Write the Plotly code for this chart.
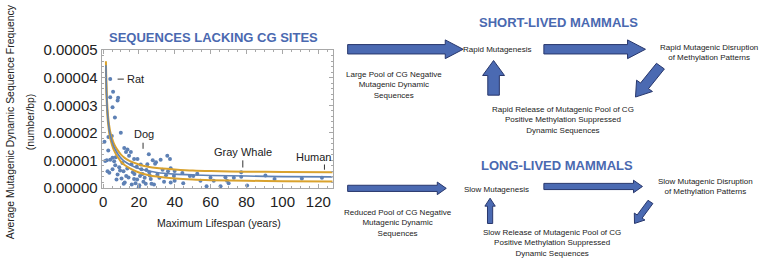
import math
import plotly.graph_objects as go

# ---------------- data ----------------
lifespan = [4.0, 5.6, 4.0, 8.4, 8.1, 5.3, 6.6, 9.9, 3.0, 4.9, 0.8, 2.9, 13.6, 4.0, 2.1, 1.2,
            6.2, 5.3, 5.3, 7.1, 8.1, 9.5, 10.3, 11.4, 12.1, 12.9, 14.5, 15.5, 15.8, 16.6,
            17.3, 18.1, 18.8, 19.2, 19.9, 20.6, 21.4, 22.5, 23.2, 24.7, 25.5, 25.8, 26.6,
            27.7, 28.4, 29.5, 30.3, 31.4, 32.1, 33.2, 34.0, 35.1, 36.2, 37.3, 37.7, 39.9,
            39.5, 39.9, 37.7, 44.2, 44.7, 48.4, 50.3, 52.5, 54.3, 57.7, 59.9, 61.7, 65.5,
            68.2, 69.1, 70.0, 72.9, 77.0, 77.0, 80.3, 90.5, 95.6, 110.8, 122.0,
            2.5, 3.5, 6.8, 7.5, 9.0, 10.8, 11.5, 13.5, 14.2, 16.0, 17.5, 19.0, 20.2, 21.0,
            22.0, 23.8, 24.2, 26.0, 27.0, 11.8, 12.8, 17.3, 29.0, 35.8]
frequency = [3.95e-5, 3.49e-5, 3.29e-5, 3.27e-5, 3.17e-5, 2.93e-5, 2.56e-5, 2.00e-5, 1.85e-5,
             1.88e-5, 1.68e-5, 1.36e-5, 1.39e-5, 1.02e-5, 1.00e-5, 0.98e-5, 0.97e-5, 1.09e-5,
             0.68e-5, 1.11e-5, 0.49e-5, 0.63e-5, 0.34e-5, 0.60e-5, 0.20e-5, 0.43e-5, 1.17e-5,
             1.30e-5, 0.86e-5, 0.57e-5, 0.32e-5, 0.17e-5, 0.77e-5, 1.05e-5, 0.02e-5, 0.43e-5,
             0.68e-5, 0.22e-5, 0.37e-5, 0.86e-5, 1.22e-5, 0.57e-5, 0.32e-5, 1.00e-5, 0.12e-5,
             0.93e-5, 0.49e-5, 0.37e-5, 1.02e-5, 0.66e-5, 0.22e-5, 0.46e-5, 0.60e-5, 1.05e-5,
             0.71e-5, 0.61e-5, 0.43e-5, 0.26e-5, 0.20e-5, 0.54e-5, 0.17e-5, 0.43e-5, 0.43e-5,
             0.51e-5, 0.26e-5, 0.06e-5, 0.37e-5, 0.26e-5, 0.06e-5, 0.39e-5, 0.26e-5, 0.17e-5,
             0.37e-5, 0.57e-5, 0.40e-5, 0.09e-5, 0.45e-5, 0.32e-5, 0.34e-5, 0.37e-5,
             0.60e-5, 0.55e-5, 0.82e-5, 0.30e-5, 0.75e-5, 0.90e-5, 0.15e-5, 0.70e-5, 0.38e-5,
             0.12e-5, 0.50e-5, 0.30e-5, 0.10e-5, 0.85e-5, 0.50e-5, 0.15e-5, 0.65e-5, 0.45e-5,
             0.15e-5, 1.45e-5, 1.30e-5, 1.05e-5, 0.88e-5, 1.17e-5]

fit_x = [1.6, 2, 2.5, 3, 3.5, 4, 5, 6, 7, 8, 10, 12, 15, 20, 25, 30, 40, 50, 60, 80, 100, 128]
fit_mid = [4.45e-5, 3.35e-5, 2.70e-5, 2.35e-5, 2.10e-5, 1.92e-5, 1.68e-5, 1.50e-5, 1.37e-5,
           1.26e-5, 1.08e-5, 0.96e-5, 0.84e-5, 0.70e-5, 0.62e-5, 0.56e-5, 0.50e-5, 0.47e-5,
           0.45e-5, 0.43e-5, 0.41e-5, 0.40e-5]
fit_upper = [4.60e-5, 3.50e-5, 2.85e-5, 2.48e-5, 2.23e-5, 2.04e-5, 1.80e-5, 1.62e-5, 1.49e-5,
             1.38e-5, 1.21e-5, 1.09e-5, 0.97e-5, 0.85e-5, 0.77e-5, 0.72e-5, 0.67e-5, 0.63e-5,
             0.61e-5, 0.59e-5, 0.58e-5, 0.57e-5]
fit_lower = [4.30e-5, 3.20e-5, 2.55e-5, 2.22e-5, 1.97e-5, 1.80e-5, 1.56e-5, 1.38e-5, 1.25e-5,
             1.14e-5, 0.95e-5, 0.83e-5, 0.71e-5, 0.56e-5, 0.47e-5, 0.41e-5, 0.34e-5, 0.30e-5,
             0.28e-5, 0.26e-5, 0.24e-5, 0.23e-5]

x_ticks = [0, 20, 40, 60, 80, 100, 120]
y_ticks = [0, 1e-5, 2e-5, 3e-5, 4e-5, 5e-5]
y_ticktext = ["0.00000", "0.00001", "0.00002", "0.00003", "0.00004", "0.00005"]

species = ["Dog", "Gray Whale", "Human"]
species_x = [23.0, 78.2, 117.3]
species_y = [1.94e-5, 1.30e-5, 1.12e-5]
pointer_x = [22.3, 77.9, 123.4]
pointer_y0 = [1.42e-5, 0.74e-5, 0.66e-5]
pointer_y1 = [1.64e-5, 1.00e-5, 0.85e-5]

# ---------------- figure ----------------
W, H = 764, 268
FONT = "Liberation Sans, Arial, sans-serif"
BLUE = "#5E81B5"
ORANGE = "#D9A22E"
HEAD = "#4A69B0"

fig = go.Figure()
fig.add_trace(go.Scatter(x=lifespan, y=frequency, mode="markers",
                         marker=dict(color=BLUE, size=4), hoverinfo="skip"))
for ys, col, w in [(fit_upper, ORANGE, 2), (fit_lower, ORANGE, 2), (fit_mid, BLUE, 1.6)]:
    fig.add_trace(go.Scatter(x=fit_x, y=ys, mode="lines", line=dict(color=col, width=w, shape="spline", smoothing=0.8),
                             hoverinfo="skip"))

x0p, x1p = 99 / W, 331 / W
y0p, y1p = 1 - 191 / H, 1 - 44 / H
axcol = "#a8a8a8"
fig.update_layout(
    width=W, height=H, margin=dict(l=0, r=0, t=0, b=0),
    paper_bgcolor="white", plot_bgcolor="white", showlegend=False,
    font=dict(family=FONT, color="#222"),
    xaxis=dict(domain=[x0p, x1p], range=[-0.8, 128], showgrid=False, zeroline=False,
               showline=True, linecolor=axcol, linewidth=1, mirror="ticks",
               ticks="inside", ticklen=4, tickcolor=axcol, tickvals=x_ticks,
               tickfont=dict(size=15, color="#222"),
               minor=dict(dtick=5, ticklen=2, ticks="inside", tickcolor=axcol, showgrid=False)),
    yaxis=dict(domain=[y0p, y1p], range=[0, 5e-5], showgrid=False, zeroline=False,
               showline=True, linecolor=axcol, linewidth=1, mirror="ticks",
               ticks="inside", ticklen=4, tickcolor=axcol, tickvals=y_ticks, ticktext=y_ticktext,
               tickfont=dict(size=15, color="#222"),
               minor=dict(dtick=0.2e-5, ticklen=2, ticks="inside", tickcolor=axcol, showgrid=False)),
)

def P(px, py):
    return px / W, 1 - py / H

ann = []
def text_px(px, py, s, size=8, color="#222", bold=False, angle=0, anchor="center"):
    x, y = P(px, py)
    t = f"<b>{s}</b>" if bold else s
    ann.append(dict(x=x, y=y, xref="paper", yref="paper", text=t, showarrow=False,
                    xanchor=anchor, yanchor="middle", textangle=angle, align="center",
                    font=dict(size=size, color=color, family=FONT)))

# chart texts
text_px(211, 30, "SEQUENCES LACKING CG SITES", size=13, color=HEAD, bold=True)
text_px(7, 120, "Average Mutagenic Dynamic Sequence Frequency", size=10.4, angle=-90)
text_px(27, 120, "(number/bp)", size=10.4, angle=-90)
text_px(217, 229, "Maximum Lifespan (years)", size=10.5)

# species labels
for name, sx, sy in zip(species, species_x, species_y):
    ann.append(dict(x=sx, y=sy, xref="x", yref="y", text=name, showarrow=False,
                    xanchor="center", yanchor="middle", font=dict(size=11, color="#222", family=FONT)))
ann.append(dict(x=12.4, y=3.95e-5, xref="x", yref="y", text="Rat", showarrow=False,
                xanchor="left", yanchor="middle", font=dict(size=11, color="#222", family=FONT)))

shapes = []
for px_, a, b in zip(pointer_x, pointer_y0, pointer_y1):
    shapes.append(dict(type="line", xref="x", yref="y", x0=px_, x1=px_, y0=a, y1=b,
                       line=dict(color="#333", width=1)))
shapes.append(dict(type="line", xref="x", yref="y", x0=8.1, x1=11.6, y0=3.95e-5, y1=3.95e-5,
                   line=dict(color="#333", width=1)))

# diagram texts
text_px(558, 14, "SHORT-LIVED MAMMALS", size=13, color=HEAD, bold=True)
text_px(496, 43, "Rapid Mutagenesis")
text_px(709, 46, "Rapid Mutagenic Disruption<br>of Methylation Patterns")
text_px(393, 81, "Large Pool of CG Negative<br>Mutagenic Dynamic<br>Sequences")
text_px(562, 118, "Rapid Release of Mutagenic Pool of CG<br>Positive Methylation Suppressed<br>Dynamic Sequences")

text_px(556, 167, "LONG-LIVED MAMMALS", size=13, color=HEAD, bold=True)
text_px(495, 193, "Slow Mutagenesis")
text_px(705, 190, "Slow Mutagenic Disruption<br>of Methylation Patterns")
text_px(397, 228, "Reduced Pool of CG Negative<br>Mutagenic Dynamic<br>Sequences")
text_px(551, 250, "Slow Release of Mutagenic Pool of CG<br>Positive Methylation Suppressed<br>Dynamic Sequences")

def arrow(x0, y0, x1, y1, bw, hw, hl):
    dx, dy = x1 - x0, y1 - y0
    L = math.hypot(dx, dy)
    ux, uy = dx / L, dy / L
    nx, ny = -uy, ux
    bx, by = x1 - ux * hl, y1 - uy * hl
    pts = [(x0 + nx * bw, y0 + ny * bw), (bx + nx * bw, by + ny * bw), (bx + nx * hw, by + ny * hw),
           (x1, y1), (bx - nx * hw, by - ny * hw), (bx - nx * bw, by - ny * bw), (x0 - nx * bw, y0 - ny * bw)]
    pp = [P(a, b) for a, b in pts]
    path = "M " + " L ".join(f"{a:.5f},{b:.5f}" for a, b in pp) + " Z"
    shapes.append(dict(type="path", xref="paper", yref="paper", path=path,
                       fillcolor="#4B6AB2", line=dict(color="#28376C", width=1)))

# short-lived arrows
arrow(346, 43, 462, 43, 5, 10, 18)
arrow(543, 43, 645, 43, 5, 10, 18)
arrow(660, 61, 635, 94, 5, 10, 15)
arrow(492.5, 92, 492.5, 55, 5.8, 11, 16)
# long-lived arrows
arrow(346, 191.5, 445, 191.5, 3.3, 6.7, 9)
arrow(543, 189.5, 642, 189.5, 3.3, 6.7, 9)
arrow(650, 206, 634, 229, 3, 6.5, 9)
arrow(489, 229, 489, 202, 2.6, 5.2, 8.5)

fig.update_layout(annotations=ann, shapes=shapes)
fig.write_html("out.html", config={"displayModeBar": False},
               post_script="document.body.style.margin='0';document.body.style.overflow='hidden';")
